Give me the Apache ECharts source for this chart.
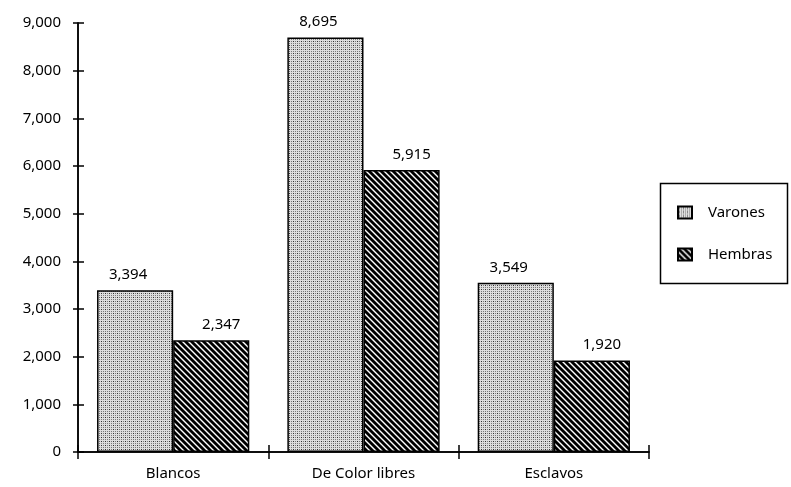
<!DOCTYPE html>
<html>
<head>
<meta charset="utf-8">
<script src="https://cdn.jsdelivr.net/npm/echarts@6/dist/echarts.min.js"></script>
<style>
  html, body { margin: 0; padding: 0; background: #fff; }
  #chart { width: 791px; height: 487px; }
</style>
</head>
<body>
<div id="chart"></div>
<script>
// Population by group and sex
const categories = ['Blancos', 'De Color libres', 'Esclavos'];
const varones = [3394, 8695, 3549];
const hembras = [2347, 5915, 1920];
const seriesNames = ['Varones', 'Hembras'];
const yTicks = [0, 1000, 2000, 3000, 4000, 5000, 6000, 7000, 8000, 9000];

// Fine dot screen fill
function dotPattern() {
  const c = document.createElement('canvas');
  c.width = 4; c.height = 4;
  const g = c.getContext('2d');
  g.fillStyle = '#dedede';
  g.fillRect(0, 0, 4, 4);
  g.fillStyle = '#333333';
  g.fillRect(1, 1, 1, 1);
  g.fillStyle = '#7a7a7a';
  g.fillRect(3, 3, 1, 1);
  g.fillRect(3, 1, 1, 1);
  g.fillRect(1, 3, 1, 1);
  return c;
}

// Diagonal hatch fill, stripes falling to the right
function hatchPattern() {
  const s = 6;
  const c = document.createElement('canvas');
  c.width = s; c.height = s;
  const g = c.getContext('2d');
  g.fillStyle = '#ffffff';
  g.fillRect(0, 0, s, s);
  g.strokeStyle = '#000000';
  g.lineWidth = 2.8;
  for (let k = -1; k <= 1; k++) {
    g.beginPath();
    g.moveTo(k * s - 1, -1);
    g.lineTo(k * s + s + 1, s + 1);
    g.stroke();
  }
  return c;
}

const fmt = v => v.toLocaleString('en-US');
const font = 'Noto Sans';
const fs = 15;

const chart = echarts.init(document.getElementById('chart'), null, { renderer: 'canvas' });

const baseX = {
  type: 'category',
  data: categories,
  position: 'bottom',
  boundaryGap: true,
  axisLine: { lineStyle: { color: '#000', width: 1.5 } },
  splitLine: { show: false }
};
const baseY = {
  type: 'value',
  min: yTicks[0],
  max: yTicks[yTicks.length - 1],
  interval: 1000,
  position: 'left',
  axisLine: { show: true, lineStyle: { color: '#000', width: 1.5 } },
  splitLine: { show: false }
};

chart.setOption({
  backgroundColor: '#ffffff',
  animation: false,
  grid: { left: 78, right: 142, top: 23, bottom: 35 },
  xAxis: [
    Object.assign({}, baseX, {
      axisTick: { show: true, length: 7, lineStyle: { color: '#000', width: 1.5 } },
      axisLabel: { margin: 14, color: '#000', fontFamily: font, fontSize: fs }
    }),
    Object.assign({}, baseX, {
      axisTick: { show: true, inside: true, length: 7, lineStyle: { color: '#000', width: 1.5 } },
      axisLabel: { show: false }
    })
  ],
  yAxis: [
    Object.assign({}, baseY, {
      axisTick: { show: true, length: 5, lineStyle: { color: '#000', width: 1.5 } },
      axisLabel: {
        margin: 17, color: '#000', fontFamily: font, fontSize: fs,
        formatter: v => fmt(v)
      }
    }),
    Object.assign({}, baseY, {
      axisTick: { show: true, inside: true, length: 6, lineStyle: { color: '#000', width: 1.5 } },
      axisLabel: { show: false }
    })
  ],
  legend: {
    orient: 'vertical',
    left: 677,
    top: 205,
    padding: 0,
    itemWidth: 14,
    itemHeight: 12,
    itemGap: 27,
    icon: 'rect',
    textStyle: { fontFamily: font, fontSize: fs, color: '#000', padding: [0, 0, 0, 11] },
    data: seriesNames
  },
  graphic: [{
    type: 'rect',
    shape: { x: 660.5, y: 183.5, width: 127, height: 100 },
    style: { fill: 'none', stroke: '#000', lineWidth: 1.5 },
    z: 100
  }],
  series: [
    {
      name: seriesNames[0],
      type: 'bar',
      data: varones,
      barGap: '0%',
      barCategoryGap: '20%',
      itemStyle: { color: { image: dotPattern(), repeat: 'repeat' }, borderColor: '#000', borderWidth: 1.5 },
      label: {
        show: true, position: 'top', distance: 8, offset: [-7, 0],
        color: '#000', fontFamily: font, fontSize: fs,
        formatter: p => fmt(p.value)
      }
    },
    {
      name: seriesNames[1],
      type: 'bar',
      data: hembras,
      barGap: '0%',
      barCategoryGap: '20%',
      itemStyle: { color: { image: hatchPattern(), repeat: 'repeat' }, borderColor: '#000', borderWidth: 1.5 },
      label: {
        show: true, position: 'top', distance: 8, offset: [10, 0],
        color: '#000', fontFamily: font, fontSize: fs,
        formatter: p => fmt(p.value)
      }
    }
  ]
});
</script>
</body>
</html>
